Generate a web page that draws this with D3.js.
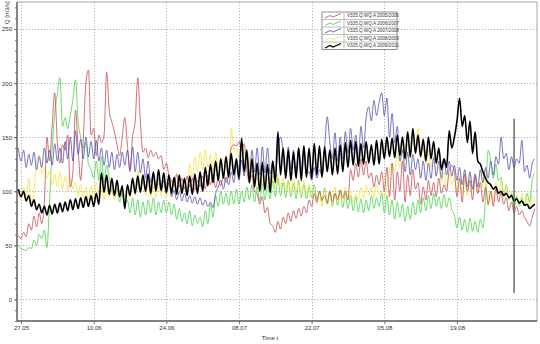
<!DOCTYPE html>
<html>
<head>
<meta charset="utf-8">
<script src="https://cdn.jsdelivr.net/npm/d3@7"></script>
<style>
  html, body { margin: 0; padding: 0; background: #fff; }
  svg { display: block; font-family: "Liberation Sans", Arial, sans-serif; }
</style>
</head>
<body>
<svg id="chart" width="540" height="344"></svg>
<script>
// Discharge Q [m3/s] at gauge V335, one reading every 12 h, summer seasons 2005–2010
const seriesNames = [
  "V335.Q.WQ.A  2005/2006",
  "V335.Q.WQ.A  2006/2007",
  "V335.Q.WQ.A  2007/2008",
  "V335.Q.WQ.A  2008/2009",
  "V335.Q.WQ.A  2009/2010"
];
const seriesColors = ["#c8454a", "#3fd43f", "#4a4ab4", "#f4e43a", "#000000"];

// first reading 26.05 12:00, then every 12 h
const firstReading = Date.UTC(2010, 4, 26, 12);
const readingStepHours = 12;

const q2005 = [
  59,56,62,58,70,64,77,67,80,70,90,150,128,160,
  191,145,126,143,138,152,104,118,175,140,110,148,200,212,
  152,158,133,152,145,152,210,175,164,155,143,133,150,168,
  143,118,150,165,205,164,136,140,131,138,132,136,130,133,
  120,126,115,110,105,116,104,112,102,114,104,112,101,110,
  104,114,102,115,106,116,103,112,105,114,108,118,140,143,
  142,146,138,144,120,108,115,100,98,88,95,80,85,70,
  68,62,72,65,76,70,80,72,82,75,84,77,86,80,
  92,86,98,90,100,92,96,89,100,90,98,92,101,94,
  100,92,120,110,126,113,130,115,128,112,117,104,115,106,
  118,100,122,95,126,92,118,100,128,90,115,96,120,102,
  108,88,104,92,110,96,108,95,112,98,106,100,120,124,
  118,95,112,90,116,100,110,92,114,98,108,90,104,88,
  100,86,102,90,98,88,94,82,90,80,86,78,82,76,
  72,68,76,84
];
const q2006 = [
  50,47,46,45,48,47,55,50,60,56,64,48,90,140,
  172,190,205,160,168,158,170,185,203,165,150,140,145,125,
  120,112,128,110,132,108,124,112,100,96,103,90,98,88,
  92,80,94,78,92,76,90,78,92,80,94,78,90,80,
  92,80,90,78,88,74,84,72,80,70,82,68,78,70,
  76,67,82,70,88,76,96,86,100,88,98,87,100,88,
  102,88,100,90,104,92,106,90,104,91,107,92,105,93,
  110,95,112,96,108,94,110,95,107,93,110,94,106,93,
  104,94,106,92,100,90,103,88,100,86,98,87,100,85,
  98,84,96,82,95,81,93,80,92,82,96,84,94,86,
  98,80,96,78,92,74,90,76,88,72,86,74,90,78,
  92,80,94,82,96,84,98,86,95,84,97,85,94,83,
  78,66,76,64,74,62,75,63,72,62,74,66,95,138,
  128,112,125,110,113,96,106,92,98,84,96,86,94,88,
  98,90,110,117
];
const q2007 = [
  140,128,138,122,134,124,136,120,132,122,140,126,138,124,
  144,128,140,126,146,130,150,128,156,134,148,130,150,132,
  146,130,147,128,140,124,138,122,136,120,134,122,136,124,
  138,120,141,118,136,117,130,112,128,108,116,104,112,100,
  110,98,108,95,101,92,100,91,98,90,96,89,95,88,
  94,87,92,86,90,85,98,104,110,102,113,106,118,108,
  125,110,129,114,135,116,138,118,140,115,141,117,140,116,
  128,113,140,150,138,118,141,120,138,117,140,119,136,116,
  118,110,122,112,120,114,140,169,145,130,154,128,150,130,
  155,135,158,138,152,130,160,140,168,178,165,184,170,182,
  191,170,186,150,172,145,160,128,138,118,136,115,134,120,
  130,112,128,110,126,112,131,114,128,112,130,115,128,114,
  124,110,122,106,120,104,118,102,116,104,120,108,122,112,
  128,115,132,125,150,130,135,120,132,122,130,126,147,118,
  124,112,126,130
];
const q2008 = [
  100,92,104,95,112,90,100,128,134,116,122,112,118,106,
  116,104,118,102,114,100,112,102,108,96,106,94,104,92,
  105,93,108,95,104,92,102,94,104,92,100,93,102,95,
  104,94,108,96,120,100,110,96,106,95,104,94,108,96,
  106,94,108,96,110,98,108,97,112,100,126,110,132,118,
  136,120,138,122,134,118,136,122,128,114,126,112,158,138,
  140,132,144,134,138,126,118,104,112,102,110,101,112,102,
  114,102,116,104,112,100,110,98,112,100,108,96,110,98,
  106,96,100,88,98,86,102,88,100,86,104,90,102,92,
  104,92,100,90,98,92,104,94,106,96,104,94,106,97,
  100,94,104,120,126,118,135,122,140,128,150,130,155,140,
  158,134,140,125,138,122,132,120,122,108,118,104,116,106,
  112,100,114,98,110,96,116,100,112,98,118,104,120,86,
  100,90,108,96,110,94,106,92,100,90,96,86,98,88,
  94,84,96,90
];
const q2009 = [
  102,95,100,91,96,86,92,83,88,80,86,78,87,79,
  88,80,89,81,90,82,92,83,93,84,94,85,95,86,
  96,86,98,88,117,99,115,97,112,96,110,95,105,84,
  106,96,112,98,114,99,115,100,116,98,118,100,120,101,
  117,99,115,98,113,97,115,98,112,96,114,97,116,98,
  118,100,122,105,125,108,128,110,130,112,132,113,135,115,
  130,112,149,118,138,108,130,104,126,100,127,101,125,99,
  128,108,155,115,140,112,138,110,136,112,140,110,142,113,
  140,112,144,115,142,113,141,118,138,115,140,116,143,118,
  145,122,147,124,146,123,144,125,146,126,143,124,147,125,
  148,130,150,132,149,131,152,133,150,130,155,132,158,135,
  152,132,148,128,150,130,146,126,140,120,130,122,156,140,
  150,165,186,160,170,145,165,135,155,128,125,118,112,108,
  106,102,104,98,100,96,98,94,96,91,93,89,91,87,
  88,84,86,88
];

// axis settings
const xTickLabels = ["27.05", "10.06", "24.06", "08.07", "22.07", "05.08", "19.08"];
const yTicks = [0, 50, 100, 150, 200, 250];
// cursor line
const cursorDate = "30.08";
const cursorRange = [6, 167];

const svg = d3.select("#chart");
const plot = { left: 17, right: 537, top: 2, bottom: 321 };

const x = d3.scaleUtc()
  .domain([new Date(Date.UTC(2010, 4, 26, 5, 30)), new Date(Date.UTC(2010, 8, 3, 10))])
  .range([plot.left, plot.right]);
const y = d3.scaleLinear().domain([-20, 275]).range([plot.bottom, plot.top]);

const parseDM = d3.utcParse("%d.%m.%Y");
const tickDates = xTickLabels.map(s => parseDM(s + ".2010"));

// frame
svg.append("rect")
  .attr("x", plot.left).attr("y", plot.top)
  .attr("width", plot.right - plot.left).attr("height", plot.bottom - plot.top)
  .attr("fill", "#fff").attr("stroke", "#a8a8a8").attr("stroke-width", 1);

// grid
const grid = svg.append("g").attr("stroke", "#a0a0a0").attr("stroke-width", 0.8)
  .attr("stroke-dasharray", "1.2,1.8");
grid.selectAll("line.h").data(yTicks).join("line")
  .attr("x1", plot.left).attr("x2", plot.right)
  .attr("y1", d => Math.round(y(d)) + 0.5).attr("y2", d => Math.round(y(d)) + 0.5);
grid.selectAll("line.v").data(tickDates).join("line")
  .attr("y1", plot.top).attr("y2", plot.bottom)
  .attr("x1", d => Math.round(x(d)) + 0.5).attr("x2", d => Math.round(x(d)) + 0.5);

// series
const readingTime = i => new Date(firstReading + i * readingStepHours * 3600e3);
const allSeries = [q2005, q2006, q2007, q2008, q2009];
const drawOrder = [1, 3, 0, 2, 4];
const line = d3.line()
  .curve(d3.curveMonotoneX)
  .x((d, i) => x(readingTime(i)))
  .y(d => y(d));

svg.append("clipPath").attr("id", "clip")
  .append("rect").attr("x", plot.left).attr("y", plot.top)
  .attr("width", plot.right - plot.left).attr("height", plot.bottom - plot.top);

const lines = svg.append("g").attr("clip-path", "url(#clip)");
drawOrder.forEach(k => {
  lines.append("path")
    .datum(allSeries[k])
    .attr("fill", "none")
    .attr("stroke", seriesColors[k])
    .attr("stroke-width", k === 4 ? 1.6 : 0.85)
    .attr("stroke-opacity", k === 4 ? 1 : 0.9)
    .attr("stroke-linejoin", "round")
    .attr("d", line);
});

// cursor
const cDate = parseDM(cursorDate + ".2010");
svg.append("line")
  .attr("x1", x(cDate)).attr("x2", x(cDate))
  .attr("y1", y(cursorRange[0])).attr("y2", y(cursorRange[1]))
  .attr("stroke", "#555").attr("stroke-width", 1.3);

// axes
const yAxisMinor = d3.axisLeft(y).tickValues(d3.range(-20, 271, 10)).tickSize(2).tickFormat("");
svg.append("g").attr("transform", `translate(${plot.left},0)`).call(yAxisMinor)
  .call(g => g.select(".domain").remove())
  .selectAll("line").attr("stroke", "#777");

const yAxis = d3.axisLeft(y).tickValues(yTicks).tickSize(3).tickPadding(2);
svg.append("g").attr("transform", `translate(${plot.left},0)`).call(yAxis)
  .call(g => g.select(".domain").remove())
  .call(g => g.selectAll("line").attr("stroke", "#777"))
  .call(g => g.selectAll("text").attr("font-size", 6).attr("fill", "#333")
    .attr("font-family", "Liberation Sans, Arial, sans-serif"));

const xAxis = d3.axisBottom(x).tickValues(tickDates).tickSize(3).tickPadding(2)
  .tickFormat((d, i) => xTickLabels[i]);
svg.append("g").attr("transform", `translate(0,${plot.bottom})`).call(xAxis)
  .call(g => g.select(".domain").remove())
  .call(g => g.selectAll("line").attr("stroke", "#777"))
  .call(g => g.selectAll("text").attr("font-size", 6).attr("fill", "#333")
    .attr("font-family", "Liberation Sans, Arial, sans-serif"));

// axis lines
svg.append("line").attr("x1", plot.left).attr("x2", plot.left)
  .attr("y1", plot.top).attr("y2", plot.bottom + 0.5)
  .attr("stroke", "#666").attr("stroke-width", 1.4);
svg.append("line").attr("x1", plot.left).attr("x2", plot.right)
  .attr("y1", plot.bottom).attr("y2", plot.bottom)
  .attr("stroke", "#666").attr("stroke-width", 1.4);

// axis titles
svg.append("text").attr("x", 270).attr("y", 340).attr("text-anchor", "middle")
  .attr("font-size", 6).attr("fill", "#333").text("Time t");
svg.append("text").attr("transform", "translate(9,24) rotate(-90)")
  .attr("font-size", 6).attr("fill", "#333").text("Q [m3/s]");

// legend
const lg = { x: 322, y: 12, w: 75, rowH: 7.5, swW: 22 };
const legend = svg.append("g");
legend.append("rect").attr("x", lg.x).attr("y", lg.y)
  .attr("width", lg.w).attr("height", lg.rowH * seriesNames.length)
  .attr("fill", "#fff").attr("stroke", "#777").attr("stroke-width", 0.8);
legend.append("line").attr("x1", lg.x + lg.swW).attr("x2", lg.x + lg.swW)
  .attr("y1", lg.y).attr("y2", lg.y + lg.rowH * seriesNames.length)
  .attr("stroke", "#999").attr("stroke-width", 0.6);
seriesNames.forEach((name, k) => {
  const ty = lg.y + k * lg.rowH;
  if (k > 0) {
    legend.append("line").attr("x1", lg.x).attr("x2", lg.x + lg.w)
      .attr("y1", ty).attr("y2", ty).attr("stroke", "#999").attr("stroke-width", 0.6);
  }
  const sw = [[3, 6], [8, 3.5], [11, 5], [19, 1.5]];
  legend.append("path")
    .attr("d", d3.line()(sw.map(p => [lg.x + p[0], ty + p[1]])))
    .attr("fill", "none").attr("stroke", seriesColors[k])
    .attr("stroke-width", k === 4 ? 1.3 : 0.8);
  legend.append("text").attr("x", lg.x + lg.swW + 3).attr("y", ty + 5.3)
    .attr("font-size", 4.6).attr("fill", "#333").text(name);
});
</script>
</body>
</html>
